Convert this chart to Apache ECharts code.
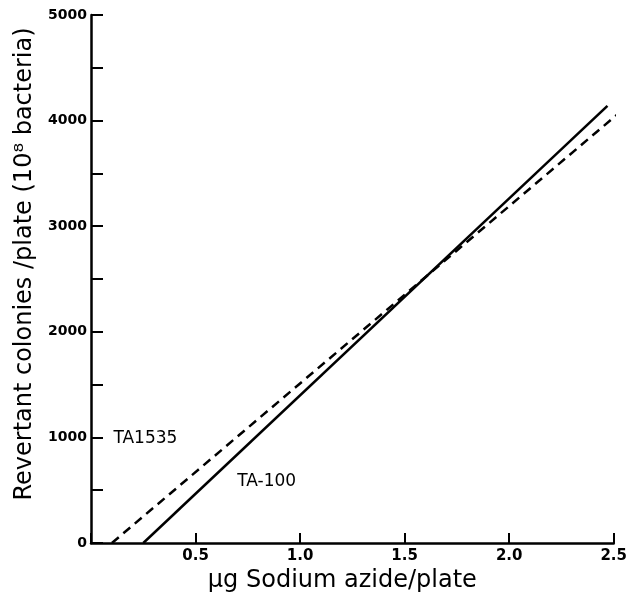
<!DOCTYPE html>
<html>
<head>
<meta charset="utf-8">
<script src="https://cdn.jsdelivr.net/npm/echarts@6/dist/echarts.min.js"></script>
<style>html,body{margin:0;padding:0;background:#fff;}#chart{width:630px;height:609px;}</style>
</head>
<body>
<div id="chart"></div>
<script>
// Data
const ta100Dose = [0.25, 2.47];
const ta100Colonies = [0, 4140];
const ta1535Dose = [0.1, 2.53];
const ta1535Colonies = [0, 4080];
const seriesNames = ['TA-100', 'TA1535'];
const xTickLabels = ['0.5', '1.0', '1.5', '2.0', '2.5'];
const yTickLabels = ['0', '1000', '2000', '3000', '4000', '5000'];

const FONT = '"DejaVu Sans", sans-serif';
const chart = echarts.init(document.getElementById('chart'));
const labelStyle = { show: true, position: 'inside', fontFamily: FONT, fontSize: 17, color: '#000' };
chart.setOption({
  animation: false,
  backgroundColor: '#fff',
  grid: { left: 91, right: 11, top: 15, bottom: 66 },
  xAxis: {
    type: 'value', min: 0, max: 2.5, interval: 0.5,
    name: 'μg Sodium azide/plate', nameLocation: 'middle', nameGap: 25,
    nameTextStyle: { fontFamily: FONT, fontSize: 24, color: '#000', padding: [0, 20, 0, 0] },
    axisLine: { show: true, lineStyle: { color: '#000', width: 2.5 } },
    axisTick: { show: true, inside: true, length: 10, lineStyle: { color: '#000', width: 2 } },
    splitLine: { show: false },
    axisLabel: {
      margin: 6, fontFamily: FONT, fontWeight: 'bold', fontSize: 15, color: '#000',
      formatter: function (v) { const s = v.toFixed(1); return xTickLabels.indexOf(s) >= 0 ? s : ''; }
    }
  },
  yAxis: {
    type: 'value', min: 0, max: 5000, interval: 500,
    name: 'Revertant colonies /plate (10⁸ bacteria)', nameLocation: 'middle', nameGap: 54,
    nameTextStyle: { fontFamily: FONT, fontSize: 24, color: '#000', padding: [0, 0, 0, 30] },
    axisLine: { show: true, lineStyle: { color: '#000', width: 2.5 } },
    axisTick: { show: true, inside: true, length: 12, lineStyle: { color: '#000', width: 2 } },
    splitLine: { show: false },
    axisLabel: {
      margin: 4, fontFamily: FONT, fontWeight: 'bold', fontSize: 14, color: '#000',
      formatter: function (v) { const s = String(v); return yTickLabels.indexOf(s) >= 0 ? s : ''; }
    }
  },
  series: [
    {
      name: seriesNames[0], type: 'line', clip: false, symbol: 'none',
      data: ta100Dose.map((x, i) => [x, ta100Colonies[i]]),
      lineStyle: { color: '#000', width: 2.5, type: 'solid' },
      markPoint: {
        symbol: 'circle', symbolSize: 1, itemStyle: { color: 'rgba(0,0,0,0)' },
        data: [{ coord: [0.84, 580], value: 0 }],
        label: Object.assign({ formatter: seriesNames[0] }, labelStyle)
      }
    },
    {
      name: seriesNames[1], type: 'line', clip: false, symbol: 'none',
      data: ta1535Dose.map((x, i) => [x, ta1535Colonies[i]]),
      lineStyle: { color: '#000', width: 2.5, type: [9, 6] },
      markPoint: {
        symbol: 'circle', symbolSize: 1, itemStyle: { color: 'rgba(0,0,0,0)' },
        data: [{ coord: [0.26, 990], value: 0 }],
        label: Object.assign({ formatter: seriesNames[1] }, labelStyle)
      }
    }
  ]
});
</script>
</body>
</html>
